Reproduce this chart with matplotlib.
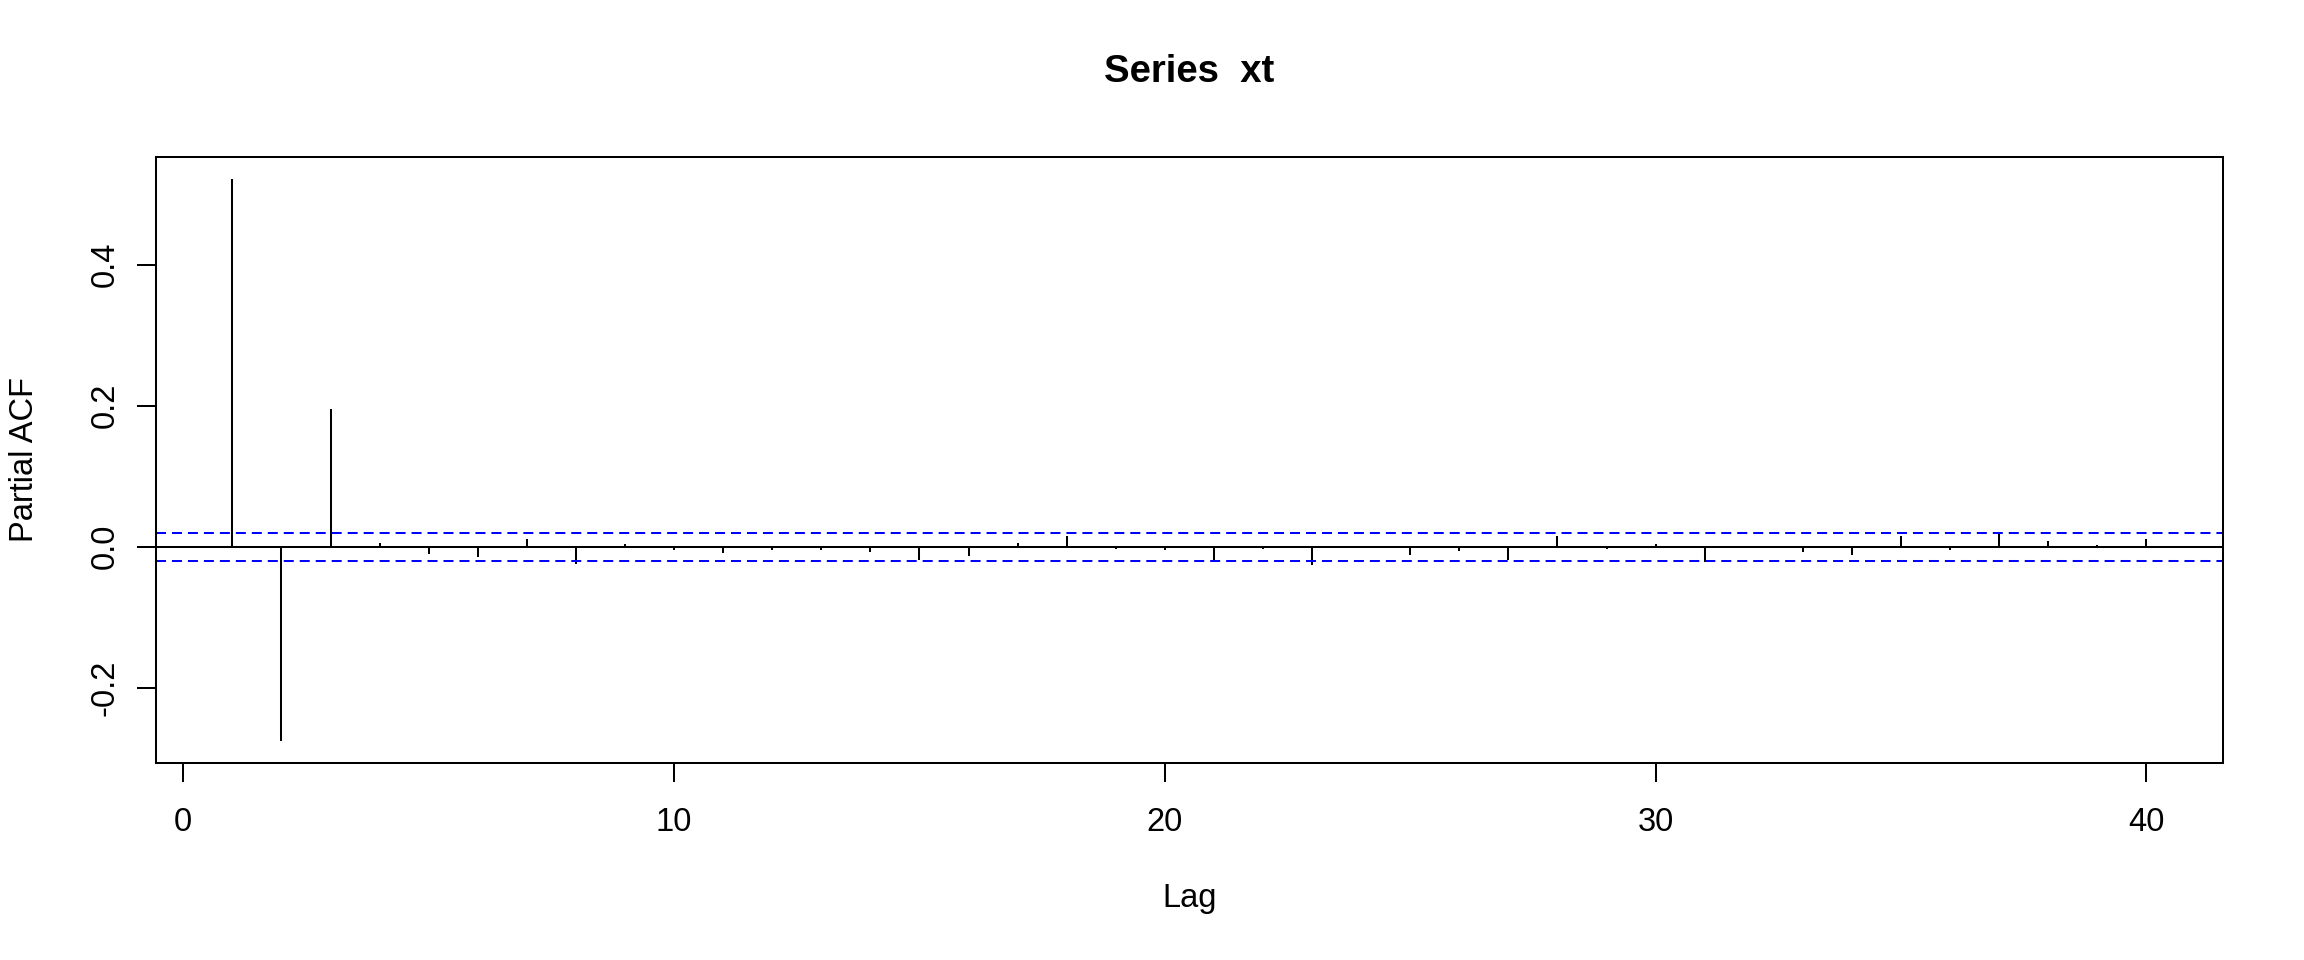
import matplotlib
matplotlib.use("Agg")
import matplotlib.pyplot as plt
import numpy as np

plt.rcParams['font.family'] = ['Liberation Sans', 'DejaVu Sans']
plt.rcParams['lines.scale_dashes'] = False

lags = list(range(1, 41))
pacf_values = [0.521, -0.275, 0.196, 0.0051, -0.0098, -0.014, 0.0107, -0.0252,
               0.0037, -0.0047, -0.0084, -0.0047, -0.0047, -0.007, -0.0182, -0.0131,
               0.0051, 0.0149, -0.0033, -0.0047, -0.0224, -0.0033, -0.0266, 0.001,
               -0.0112, -0.0061, -0.0182, 0.0149, -0.0033, 0.0037, -0.021, -0.001,
               -0.007, -0.0112, 0.0149, -0.0047, 0.0182, 0.0079, 0.0023, 0.0107]
conf_limit = 0.0198
x_ticks = [0, 10, 20, 30, 40]
y_ticks = [-0.2, 0.0, 0.2, 0.4]
y_ticklabels = ["-0.2", "0.0", "0.2", "0.4"]
title = "Series  xt"
xlabel = "Lag"
ylabel = "Partial ACF"

W, H = 2304, 960
dpi = 100
fig = plt.figure(figsize=(W / dpi, H / dpi), dpi=dpi)
left, right, top, bottom = 155.8, 2223, 157, 763
ax = fig.add_axes([left / W, 1 - bottom / H, (right - left) / W, (bottom - top) / H])

lw = 1.45
ax.vlines(lags, 0, pacf_values, colors='black', linewidth=lw)
ax.axhline(0, color='black', linewidth=lw)
ax.axhline(conf_limit, color='#0000FF', linewidth=lw, linestyle=(0, (7.2, 4.3)))
ax.axhline(-conf_limit, color='#0000FF', linewidth=lw, linestyle=(0, (7.2, 4.3)))

xr = max(lags) - min(lags)
ax.set_xlim(min(lags) - 0.04 * xr, max(lags) + 0.04 * xr)
ymin = min(min(pacf_values), -conf_limit)
ymax = max(max(pacf_values), conf_limit)
yr = ymax - ymin
ax.set_ylim(ymin - 0.04 * yr, ymax + 0.04 * yr)

for s in ax.spines.values():
    s.set_linewidth(lw)

ax.set_xticks(x_ticks)
ax.set_xticklabels([str(t) for t in x_ticks], fontsize=23.5)
ax.set_yticks(y_ticks)
ax.set_yticklabels(y_ticklabels, fontsize=23.5, rotation=90, va='center')
ax.tick_params(axis='both', length=13.5, width=lw, direction='out', color='black')
ax.tick_params(axis='x', pad=18)
ax.tick_params(axis='y', pad=12)

fig.text((left + right) / 2 / W, 1 - 72 / H, title, ha='center', va='center',
         fontsize=27.5, fontweight='bold')
fig.text((left + right) / 2 / W, 1 - 899 / H, xlabel, ha='center', va='center', fontsize=23.5)
fig.text(25 / W, 1 - ((top + bottom) / 2) / H, ylabel, ha='center', va='center',
         fontsize=23.5, rotation=90)

fig.savefig("out.png", dpi=dpi, facecolor='white')
